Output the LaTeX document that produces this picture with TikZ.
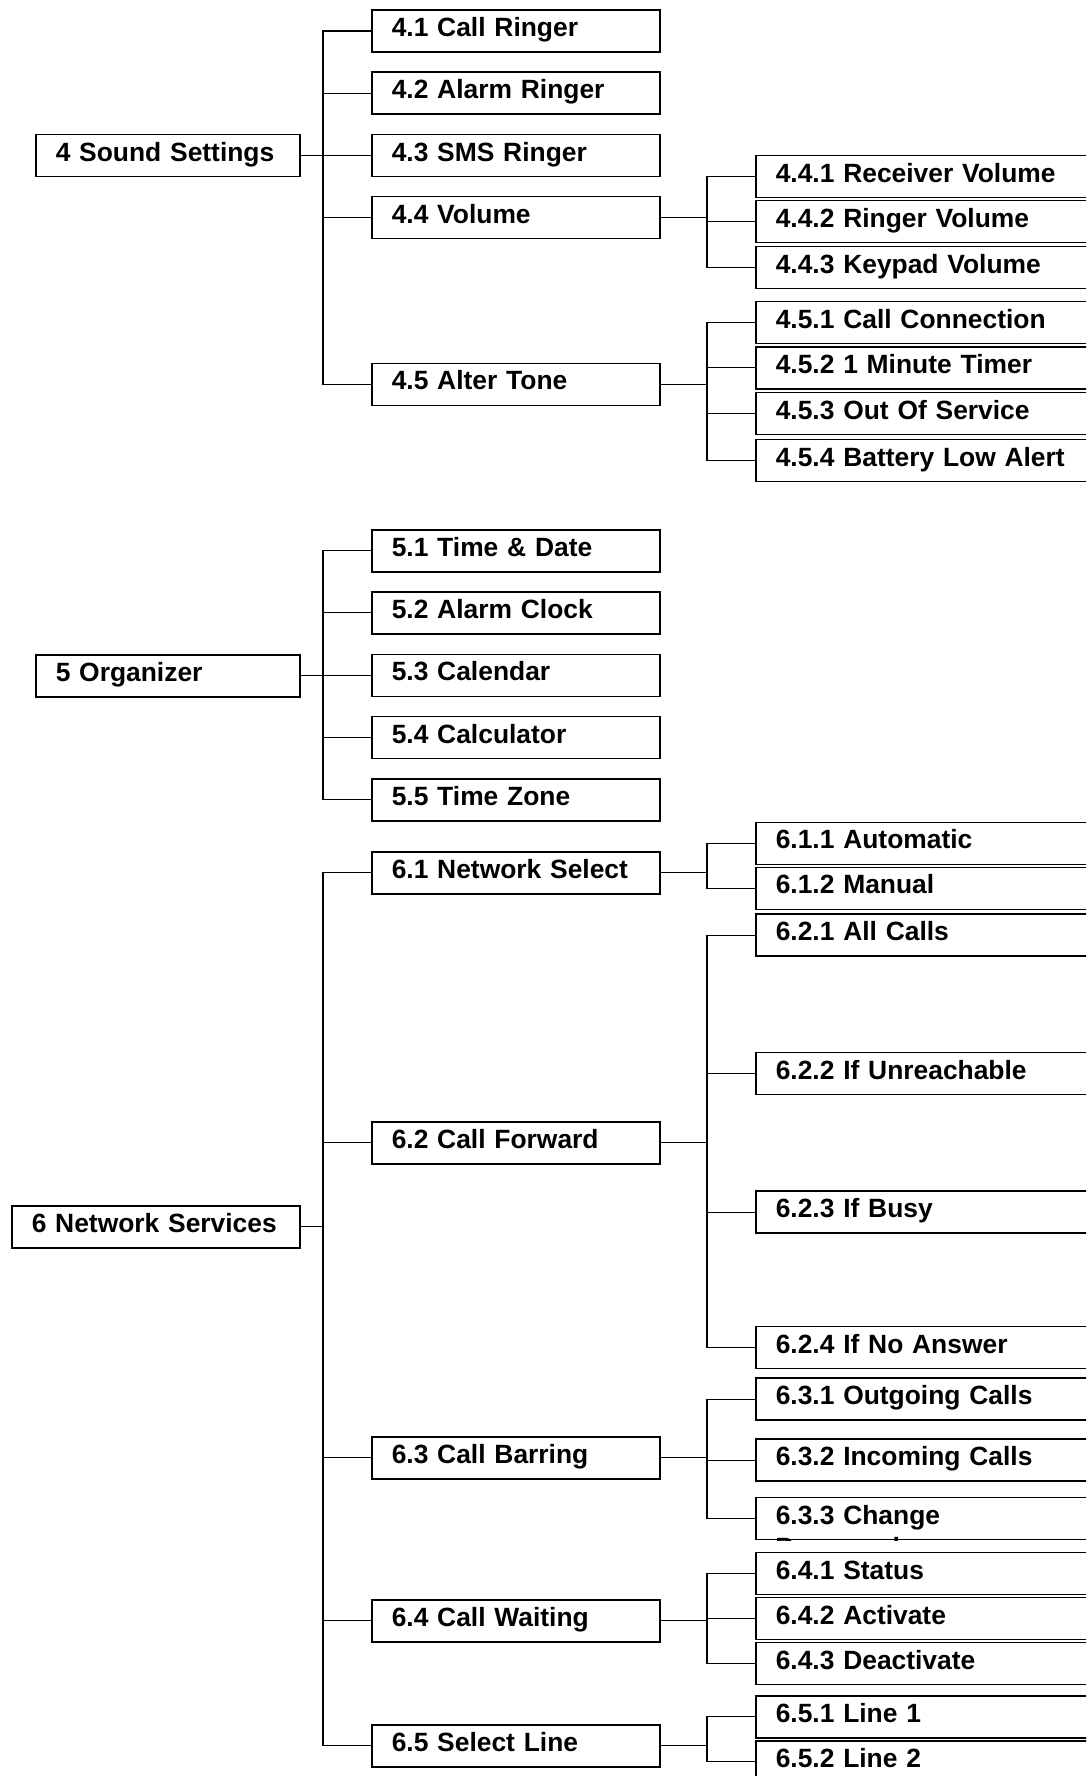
\documentclass[tikz,border=0pt]{standalone}
\usepackage{fontspec}
\setmainfont{Liberation Sans}
\begin{document}
\begin{tikzpicture}[x=0.5pt, y=-0.5pt, font=\fontsize{13.2pt}{15pt}\selectfont\bfseries,
  voce/.style={draw, line width=0.75pt, anchor=north west, align=left, text width=#1,
    inner xsep=10pt, inner ysep=0pt, minimum height=21pt, text height=9.3pt, text depth=3.6pt},
  voce/.default=124pt,
  ramo/.style={line width=0.55pt}]
\clip (0,0) rectangle (1086,1776);

% Colonne dei rami
\coordinate (tA) at (323,0);
\coordinate (tB) at (707,0);

% 4 Sound Settings
\node[voce=112pt] (s4) at (35,134) {4 Sound Settings};
\node[voce] (s41) at (371,9.3) {4.1 Call Ringer};
\node[voce] (s42) at (371,71.5) {4.2 Alarm Ringer};
\node[voce] (s43) at (371,133.7) {4.3 SMS Ringer};
\node[voce] (s44) at (371,196) {4.4 Volume};
\node[voce] (s45) at (371,362.5) {4.5 Alter Tone};

\node[voce=160pt] (s441) at (755,155) {4.4.1 Receiver Volume};
\node[voce=160pt] (s442) at (755,200) {4.4.2 Ringer Volume};
\node[voce=160pt] (s443) at (755,245.7) {4.4.3 Keypad Volume};
\node[voce=160pt] (s451) at (755,300.7) {4.5.1 Call Connection};
\node[voce=160pt] (s452) at (755,346) {4.5.2 1 Minute Timer};
\node[voce=160pt] (s453) at (755,391.7) {4.5.3 Out Of Service};
\node[voce=160pt] (s454) at (755,438.7) {4.5.4 Battery Low Alert};

% 5 Organizer
\node[voce=112pt] (s5) at (35,654) {5 Organizer};
\node[voce] (s51) at (371,529) {5.1 Time \& Date};
\node[voce] (s52) at (371,591) {5.2 Alarm Clock};
\node[voce] (s53) at (371,653.5) {5.3 Calendar};
\node[voce] (s54) at (371,715.7) {5.4 Calculator};
\node[voce] (s55) at (371,778) {5.5 Time Zone};

% 6 Network Services
\node[voce] (s6) at (11,1205) {6 Network Services};
\node[voce] (s61) at (371,851) {6.1 Network Select};
\node[voce] (s62) at (371,1121) {6.2 Call Forward};
\node[voce] (s63) at (371,1436) {6.3 Call Barring};
\node[voce] (s64) at (371,1599) {6.4 Call Waiting};
\node[voce] (s65) at (371,1724) {6.5 Select Line};

\node[voce=160pt] (s611) at (755,821.5) {6.1.1 Automatic};
\node[voce=160pt] (s612) at (755,866.5) {6.1.2 Manual};
\node[voce=160pt] (s621) at (755,913.3) {6.2.1 All Calls};
\node[voce=160pt] (s622) at (755,1051.7) {6.2.2 If Unreachable};
\node[voce=160pt] (s623) at (755,1190.3) {6.2.3 If Busy};
\node[voce=160pt] (s624) at (755,1325.7) {6.2.4 If No Answer};
\node[voce=160pt] (s631) at (755,1377.3) {6.3.1 Outgoing Calls};
\node[voce=160pt] (s632) at (755,1438.3) {6.3.2 Incoming Calls};
\node[voce=160pt] (s633) at (755,1496.7) {6.3.3 Change};
\node[voce=160pt] (s641) at (755,1551.7) {6.4.1 Status};
\node[voce=160pt] (s642) at (755,1596.7) {6.4.2 Activate};
\node[voce=160pt] (s643) at (755,1641.7) {6.4.3 Deactivate};
\node[voce=160pt] (s651) at (755,1695) {6.5.1 Line 1};
\node[voce=160pt] (s652) at (755,1740) {6.5.2 Line 2};

% seconda riga tagliata dal riquadro
\begin{scope}
\clip (s633.north west) rectangle (s633.south east);
\node[anchor=base west, inner sep=0pt] (pw) at ([xshift=10pt, yshift=-29.8pt]s633.north west) {Password};
\end{scope}

% Collegamenti
\foreach \c in {s41,s42,s43,s44,s45} \draw[ramo] (s4.east) -- (s4.east -| tA) |- (\c.west);
\foreach \c in {s51,s52,s53,s54,s55} \draw[ramo] (s5.east) -- (s5.east -| tA) |- (\c.west);
\foreach \c in {s61,s62,s63,s64,s65} \draw[ramo] (s6.east) -- (s6.east -| tA) |- (\c.west);

\foreach \c in {s441,s442,s443} \draw[ramo] (s44.east) -- (s44.east -| tB) |- (\c.west);
\foreach \c in {s451,s452,s453,s454} \draw[ramo] (s45.east) -- (s45.east -| tB) |- (\c.west);
\foreach \c in {s611,s612} \draw[ramo] (s61.east) -- (s61.east -| tB) |- (\c.west);
\foreach \c in {s621,s622,s623,s624} \draw[ramo] (s62.east) -- (s62.east -| tB) |- (\c.west);
\foreach \c in {s631,s632,s633} \draw[ramo] (s63.east) -- (s63.east -| tB) |- (\c.west);
\foreach \c in {s641,s642,s643} \draw[ramo] (s64.east) -- (s64.east -| tB) |- (\c.west);
\foreach \c in {s651,s652} \draw[ramo] (s65.east) -- (s65.east -| tB) |- (\c.west);

\end{tikzpicture}
\end{document}
